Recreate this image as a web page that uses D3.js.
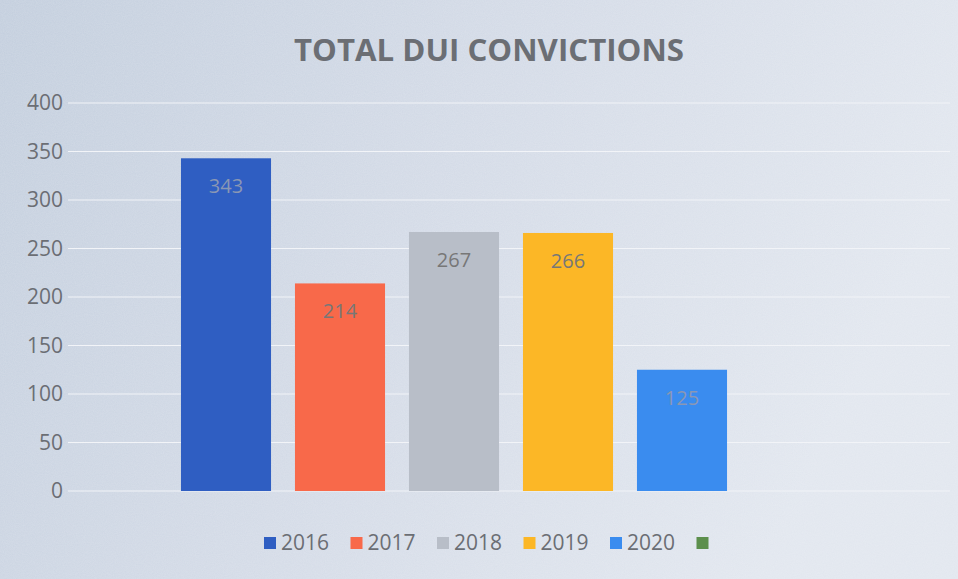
<!DOCTYPE html>
<html><head><meta charset="utf-8">
<script src="https://cdn.jsdelivr.net/npm/d3@7"></script>
<style>html,body{margin:0;padding:0;background:#d8dfe9;}svg{display:block;}</style>
</head><body>
<svg id="chart" width="958" height="579"></svg>
<script>
const years = ["2016","2017","2018","2019","2020",""];
const values = [343, 214, 267, 266, 125, null];
const colors = ["#2f5ec2","#f8694a","#b8bec8","#fcb726","#3a8cef","#5c8f4c"];
const yTicks = [0,50,100,150,200,250,300,350,400];
const title = "TOTAL DUI CONVICTIONS";

const W = 958, H = 579;
const svg = d3.select("#chart");
const defs = svg.append("defs");
const g1 = defs.append("linearGradient").attr("id","bg").attr("x1","0").attr("x2","1").attr("y1","0").attr("y2","0.3");
g1.append("stop").attr("offset","0").attr("stop-color","#c4cfde");
g1.append("stop").attr("offset","0.5").attr("stop-color","#d4dbe7");
g1.append("stop").attr("offset","1").attr("stop-color","#e2e7ef");
svg.append("rect").attr("width",W).attr("height",H).attr("fill","url(#bg)");
const f = defs.append("filter").attr("id","noise").attr("x","0").attr("y","0").attr("width","100%").attr("height","100%");
f.append("feTurbulence").attr("type","fractalNoise").attr("baseFrequency","0.9").attr("numOctaves","2").attr("seed","3");
f.append("feColorMatrix").attr("type","matrix").attr("values","0 0 0 0 1  0 0 0 0 1  0 0 0 0 1  0 0 0 0.35 -0.05");
svg.append("rect").attr("width",W).attr("height",H).attr("filter","url(#noise)").attr("opacity",0.5);

const x = d3.scaleBand().domain(years).range([169, 853]).paddingInner(0.21).paddingOuter(0.105);
const y = d3.scaleLinear().domain([0,400]).range([491, 103]);

svg.append("g").selectAll("line").data(yTicks).join("line")
  .attr("x1",68).attr("x2",950)
  .attr("y1",d=>y(d)).attr("y2",d=>y(d))
  .attr("stroke","#f2f4f8").attr("stroke-width",1.2);

const yAxis = d3.axisLeft(y).tickValues(yTicks).tickSize(0).tickPadding(0);
const ya = svg.append("g").attr("transform","translate(63,0)").call(yAxis);
ya.select(".domain").remove();
ya.selectAll("text").attr("font-family","Open Sans, sans-serif").attr("font-size",21).attr("fill","#6b6e74");

const data = years.map((k,i)=>({k, v: values[i], c: colors[i]})).filter(d=>d.v!=null);
svg.append("g").selectAll("rect").data(data).join("rect")
  .attr("x",d=>x(d.k)).attr("width",x.bandwidth())
  .attr("y",d=>y(d.v)).attr("height",d=>y(0)-y(d.v))
  .attr("fill",d=>d.c);

svg.append("g").selectAll("text").data(data).join("text")
  .attr("x",d=>x(d.k)+x.bandwidth()/2).attr("y",d=>y(d.v)+35)
  .attr("text-anchor","middle")
  .attr("font-family","Open Sans, sans-serif").attr("font-size",20)
  .attr("fill",d=>d.k==="2016"||d.k==="2020"?"#8a97b4":"#777")
  .text(d=>d.v);

svg.append("text").attr("x",489).attr("y",61).attr("text-anchor","middle")
  .attr("font-family","Open Sans, sans-serif").attr("font-weight","bold").attr("font-size",31)
  .attr("fill","#6b6e74").attr("textLength",390).attr("lengthAdjust","spacingAndGlyphs").text(title);

const lg = svg.append("g").attr("transform","translate(264,535)");
const step = 86.5;
years.forEach((k,i)=>{
  const gg = lg.append("g").attr("transform",`translate(${i*step},0)`);
  gg.append("rect").attr("width",12).attr("height",12).attr("y",2).attr("fill",colors[i]);
  gg.append("text").attr("x",17).attr("y",15).attr("font-family","Open Sans, sans-serif")
    .attr("font-size",21).attr("fill","#6b6e74").text(k);
});
</script>
</body></html>
